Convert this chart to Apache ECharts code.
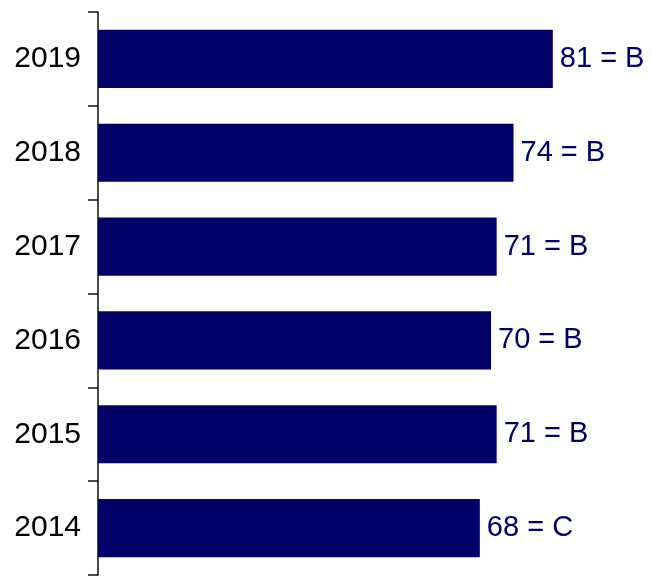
<!DOCTYPE html>
<html>
<head>
<meta charset="utf-8">
<script src="https://cdn.jsdelivr.net/npm/echarts@6/dist/echarts.min.js"></script>
<style>
html, body { margin: 0; padding: 0; background: #fff; }
#main { width: 652px; height: 578px; }
</style>
</head>
<body>
<div id="main"></div>
<script>
// years bottom -> top
var years = ['2014', '2015', '2016', '2017', '2018', '2019'];
var scores = [68, 71, 70, 71, 74, 81];
var grades = ['C', 'B', 'B', 'B', 'B', 'B'];

var myChart = echarts.init(document.getElementById('main'));

myChart.setOption({
  animation: false,
  grid: {
    left: 98,
    top: 12,
    bottom: 3,
    width: 561.5,
    outerBoundsMode: 'none'
  },
  xAxis: {
    type: 'value',
    min: 0,
    max: 100,
    show: false
  },
  yAxis: {
    type: 'category',
    data: years,
    axisLine: { show: true, lineStyle: { color: '#111', width: 1.5 } },
    axisTick: { show: true, length: 10, lineStyle: { color: '#111', width: 1.5 } },
    axisLabel: {
      color: '#000',
      fontSize: 30,
      fontFamily: 'Liberation Sans, Arial, sans-serif',
      margin: 17,
      padding: [0, 0, 7, 0]
    }
  },
  series: [{
    type: 'bar',
    data: scores,
    barCategoryGap: '38%',
    itemStyle: { color: '#000066' },
    label: {
      show: true,
      position: 'right',
      distance: 7,
      color: '#000066',
      fontSize: 29,
      fontFamily: 'Liberation Sans, Arial, sans-serif',
      padding: [3, 0, 0, 0],
      formatter: function (p) {
        return p.value + ' = ' + grades[p.dataIndex];
      }
    }
  }]
});
</script>
</body>
</html>
